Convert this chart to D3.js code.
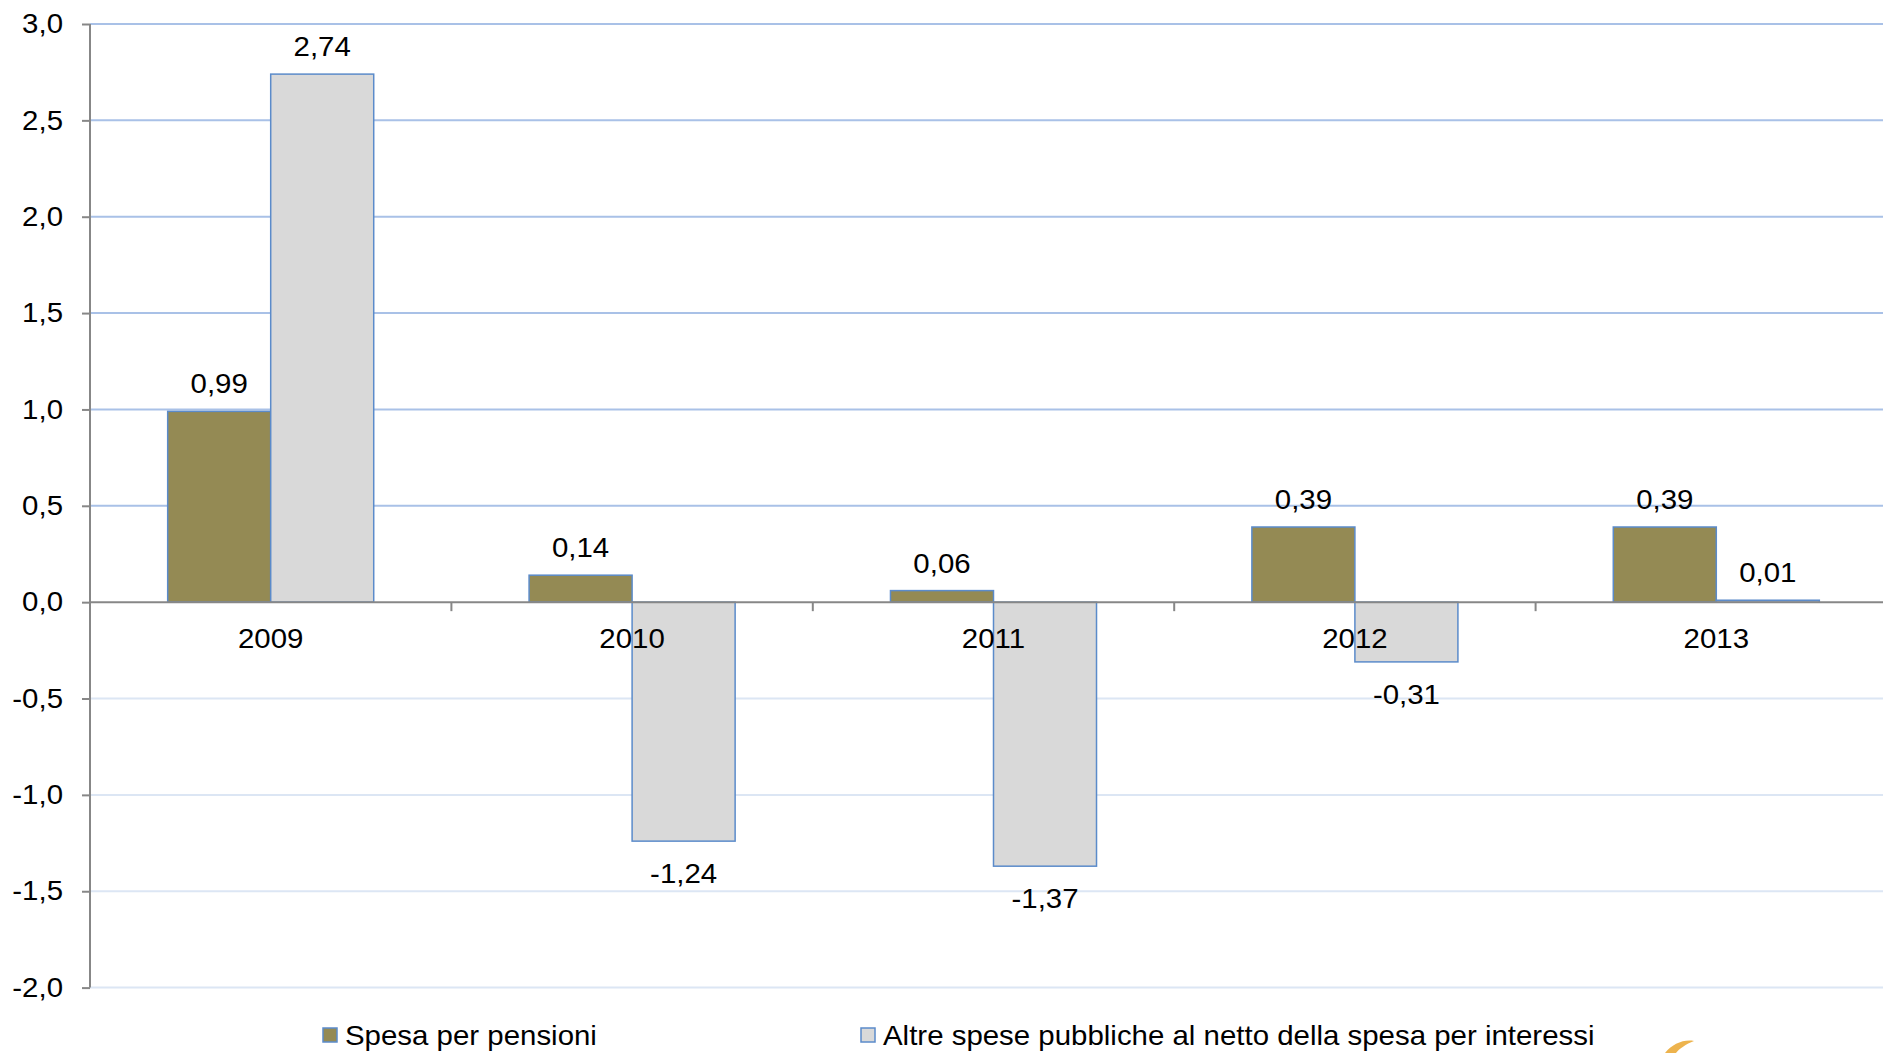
<!DOCTYPE html>
<html>
<head>
<meta charset="utf-8">
<script src="https://cdn.jsdelivr.net/npm/d3@7"></script>
<style>
  body { margin: 0; background: #fff; }
  svg text { font-family: "Liberation Sans", Arial, sans-serif; fill: #000; }
</style>
</head>
<body>
<script>
var years = ["2009", "2010", "2011", "2012", "2013"];
var seriesNames = ["Spesa per pensioni", "Altre spese pubbliche al netto della spesa per interessi"];
var pensioni = [0.99, 0.14, 0.06, 0.39, 0.39];
var altreSpese = [2.74, -1.24, -1.37, -0.31, 0.01];
var yTicks = [3.0, 2.5, 2.0, 1.5, 1.0, 0.5, 0.0, -0.5, -1.0, -1.5, -2.0];

window.onload = drawChart();

function drawChart(){
    var width = 1883,
        height = 1053,
        fontSize = 27,
        sx = 1.09;   // text in the source is slightly wider than tall

    var svg = d3.select("body")
        .append("svg")
        .attr("width", width)
        .attr("height", height);

    var fmt = function(v, d){ return v.toFixed(d).replace(".", ","); };

    var y = d3.scaleLinear()
        .domain([-2, 3])
        .range([987.6, 24]);

    var x = d3.scaleBand()
        .domain(years)
        .range([90, 1897])
        .paddingInner(0)
        .paddingOuter(0);

    var inner = d3.scaleBand()
        .domain([0, 1])
        .range([0, x.bandwidth()])
        .paddingInner(0)
        .paddingOuter(0.754);

    // gridlines
    svg.selectAll(".grid")
        .data(yTicks.filter(function(t){ return t !== 0; }))
        .enter()
        .append("line")
        .attr("class", "grid")
        .attr("x1", 90)
        .attr("x2", width)
        .attr("y1", function(d){ return y(d); })
        .attr("y2", function(d){ return y(d); })
        .attr("stroke", function(d){ return d > 0 ? "#a9c1e7" : "#dce6f4"; })
        .attr("stroke-width", 2);

    var series = [pensioni, altreSpese];
    var fills = ["#948a54", "#d9d9d9"];

    series.forEach(function(vals, si){
        svg.selectAll(".bar" + si)
            .data(vals)
            .enter()
            .append("rect")
            .attr("class", "bar" + si)
            .attr("x", function(d, i){ return x(years[i]) + inner(si); })
            .attr("width", inner.bandwidth())
            .attr("y", function(d){ return y(Math.max(0, d)); })
            .attr("height", function(d){ return Math.abs(y(d) - y(0)); })
            .attr("fill", fills[si])
            .attr("stroke", "#5b8bca")
            .attr("stroke-width", 1.5);

        svg.selectAll(".lab" + si)
            .data(vals)
            .enter()
            .append("text")
            .attr("transform", function(d, i){
                var cx = x(years[i]) + inner(si) + inner.bandwidth() / 2;
                var cy = d >= 0 ? y(d) - 18 : y(d) + 42;
                return "translate(" + cx + "," + cy + ") scale(" + sx + ",1)";
            })
            .attr("text-anchor", "middle")
            .attr("font-size", fontSize)
            .text(function(d){ return fmt(d, 2); });
    });

    // y axis
    var yAxis = svg.append("g")
        .attr("transform", "translate(90,0)")
        .call(d3.axisLeft(y).tickValues(yTicks).tickSize(8)
            .tickFormat(function(d){ return fmt(d, 1); }));
    yAxis.select(".domain").attr("stroke", "#878787").attr("stroke-width", 2)
        .attr("d", "M0," + y(3) + "V" + y(-2));
    yAxis.selectAll(".tick line").attr("stroke", "#878787").attr("stroke-width", 2);
    yAxis.selectAll(".tick text")
        .attr("x", -27 / sx)
        .attr("transform", "scale(" + sx + ",1)")
        .attr("font-size", fontSize).attr("fill", "#000")
        .attr("font-family", "Liberation Sans, Arial, sans-serif");

    // x axis at zero
    var xAxis = svg.append("g")
        .attr("transform", "translate(0," + y(0) + ")")
        .call(d3.axisBottom(x).tickSize(0));
    xAxis.select(".domain").attr("stroke", "#878787").attr("stroke-width", 2)
        .attr("d", "M90,0H" + width);
    xAxis.selectAll(".tick text")
        .attr("y", 46).attr("dy", null)
        .attr("transform", "scale(" + sx + ",1)")
        .attr("font-size", fontSize).attr("fill", "#000")
        .attr("font-family", "Liberation Sans, Arial, sans-serif");
    xAxis.selectAll(".sep")
        .data(years.slice(1))
        .enter()
        .append("line")
        .attr("x1", function(d){ return x(d); })
        .attr("x2", function(d){ return x(d); })
        .attr("y1", 0)
        .attr("y2", 9)
        .attr("stroke", "#878787")
        .attr("stroke-width", 2);

    // legend
    var legendX = [323, 861];
    var legend = svg.selectAll(".legend")
        .data(seriesNames)
        .enter()
        .append("g")
        .attr("class", "legend")
        .attr("transform", function(d, i){ return "translate(" + legendX[i] + ",1028)"; });
    legend.append("rect")
        .attr("width", 14)
        .attr("height", 14)
        .attr("fill", function(d, i){ return fills[i]; })
        .attr("stroke", "#5b8bca")
        .attr("stroke-width", 1.5);
    legend.append("text")
        .attr("transform", "translate(22,17) scale(" + sx + ",1)")
        .attr("font-size", fontSize)
        .text(function(d){ return d; });

    // partial logo swoosh at bottom right
    svg.append("path")
        .attr("d", "M1665,1053 C1672,1044 1684,1039 1694,1041 C1686,1044 1679,1049 1676,1053 Z")
        .attr("fill", "#e8a020")
        .attr("opacity", 0.8);
};
</script>
</body>
</html>
